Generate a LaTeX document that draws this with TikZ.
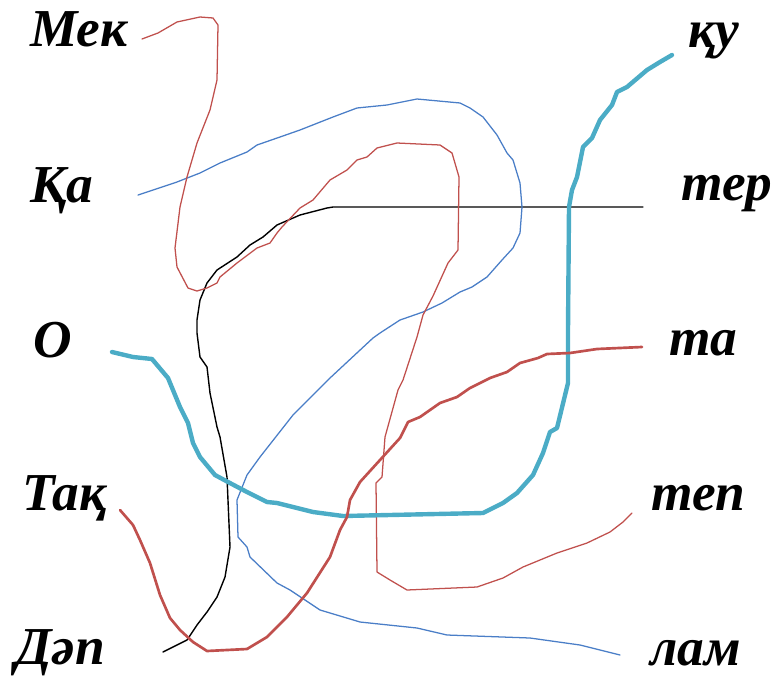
\documentclass[tikz,border=0pt]{standalone}
\usepackage{fontspec}
\setmainfont{Liberation Serif}
\begin{document}
\begin{tikzpicture}[x=0.75pt,y=-0.75pt,
  lbl/.style={anchor=base west,inner sep=0pt,font=\fontsize{40}{40}\selectfont\bfseries\itshape},
  wire/.style={line join=round,line cap=round},
  thinred/.style={wire,draw={rgb,255:red,192;green,80;blue,77},line width=0.95pt},
  thinblue/.style={wire,draw={rgb,255:red,74;green,126;blue,199},line width=0.95pt},
  thinblack/.style={wire,draw=black,line width=1.05pt},
  thickcyan/.style={wire,draw={rgb,255:red,75;green,172;blue,198},line width=3.3pt},
  midred/.style={wire,draw={rgb,255:red,192;green,80;blue,77},line width=2pt}]
\useasboundingbox (0,0) rectangle (777,678);
% labels
\node[lbl] (mek) at (30,46) {Мек};
\node[lbl] (qa) at (30,202) {Қа};
\node[lbl] (o) at (33,357) {О};
\node[lbl] (taq) at (22,510) {Тақ};
\node[lbl] (dap) at (15,664) {Дәп};
\node[lbl] (qu) at (688,47) {қу};
\node[lbl] (ter) at (681,200) {тер};
\node[lbl] (ta) at (669,355) {та};
\node[lbl] (tep) at (651,510) {теп};
\node[lbl] (lam) at (650,665) {лам};
% connector ends
\coordinate (mekE) at (142,39);
\coordinate (tepE) at (632,513);
\coordinate (qaE) at (138,195);
\coordinate (lamE) at (620,655);
\coordinate (terE) at (643,207);
\coordinate (dapE) at (163,652);
\coordinate (oE) at (112,352);
\coordinate (quE) at (672,55);
\coordinate (taqE) at (120,510);
\coordinate (taE) at (642,347);
% black: Дәп - тер
\draw[thinblack] (terE) -- (333,207) -- (327,208) -- (300,215) -- (277,225) -- (263,237) -- (250,245) -- (237,257) -- (217,270) -- (207,283) -- (200,300) -- (197,320) -- (197,333) -- (200,357) -- (207,367) -- (210,393) -- (217,427) -- (220,437) -- (227,477) -- (230,547) -- (225,577) -- (217,597) -- (207,612) -- (197,625) -- (187,640) -- (dapE);
% thin blue: Қа - лам
\draw[thinblue] (qaE) -- (177,182) -- (200,173) -- (220,163) -- (247,152) -- (257,145) -- (280,137) -- (300,130) -- (333,117) -- (357,108) -- (387,105) -- (417,99) -- (460,103) -- (470,108) -- (483,117) -- (497,135) -- (507,153) -- (513,160) -- (520,183) -- (522,207) -- (520,233) -- (513,248) -- (502,260) -- (487,277) -- (472,287) -- (460,292) -- (442,303) -- (423,312) -- (400,320) -- (380,333) -- (373,338) -- (330,378) -- (293,415) -- (260,457) -- (247,475) -- (237,500) -- (238,537) -- (247,547) -- (250,557) -- (277,583) -- (290,590) -- (320,610) -- (360,622) -- (417,628) -- (447,635) -- (530,638) -- (580,645) -- (lamE);
% thin red: Мек - теп
\draw[thinred] (mekE) -- (158,33) -- (177,22) -- (200,17) -- (213,18) -- (218,25) -- (217,80) -- (210,110) -- (197,143) -- (187,177) -- (180,207) -- (175,248) -- (177,267) -- (188,288) -- (197,291) -- (207,288) -- (217,283) -- (220,277) -- (237,263) -- (257,248) -- (270,243) -- (277,233) -- (282,227) -- (300,208) -- (313,200) -- (330,180) -- (347,170) -- (357,160) -- (367,157) -- (377,148) -- (397,143) -- (440,145) -- (452,153) -- (459,177) -- (458,250) -- (448,263) -- (433,296) -- (423,315) -- (417,337) -- (403,380) -- (398,390) -- (385,437) -- (382,477) -- (376,483) -- (377,572) -- (390,580) -- (407,590) -- (477,587) -- (503,578) -- (523,567) -- (540,560) -- (557,553) -- (587,543) -- (610,532) -- (623,522) -- (tepE);
% thick cyan: О - қу
\draw[thickcyan] (oE) -- (133,357) -- (152,359) -- (168,378) -- (180,407) -- (188,423) -- (193,443) -- (200,457) -- (215,475) -- (228,482) -- (247,492) -- (267,502) -- (277,503) -- (313,512) -- (343,516) -- (483,513) -- (503,503) -- (517,493) -- (533,475) -- (543,453) -- (550,432) -- (557,428) -- (568,383) -- (568,330) -- (569,207) -- (572,190) -- (577,177) -- (583,147) -- (592,138) -- (600,120) -- (612,105) -- (617,92) -- (627,87) -- (647,70) -- (660,62) -- (quE);
% medium red: Тақ - та
\draw[midred] (taqE) -- (133,525) -- (140,540) -- (150,563) -- (160,595) -- (170,618) -- (180,630) -- (193,642) -- (207,651) -- (247,649) -- (267,637) -- (287,617) -- (307,593) -- (330,557) -- (340,530) -- (347,517) -- (350,500) -- (360,482) -- (380,460) -- (400,438) -- (408,422) -- (420,417) -- (440,403) -- (457,397) -- (470,388) -- (490,378) -- (507,372) -- (520,363) -- (538,358) -- (547,354) -- (570,353) -- (597,349) -- (taE);
\end{tikzpicture}
\end{document}
